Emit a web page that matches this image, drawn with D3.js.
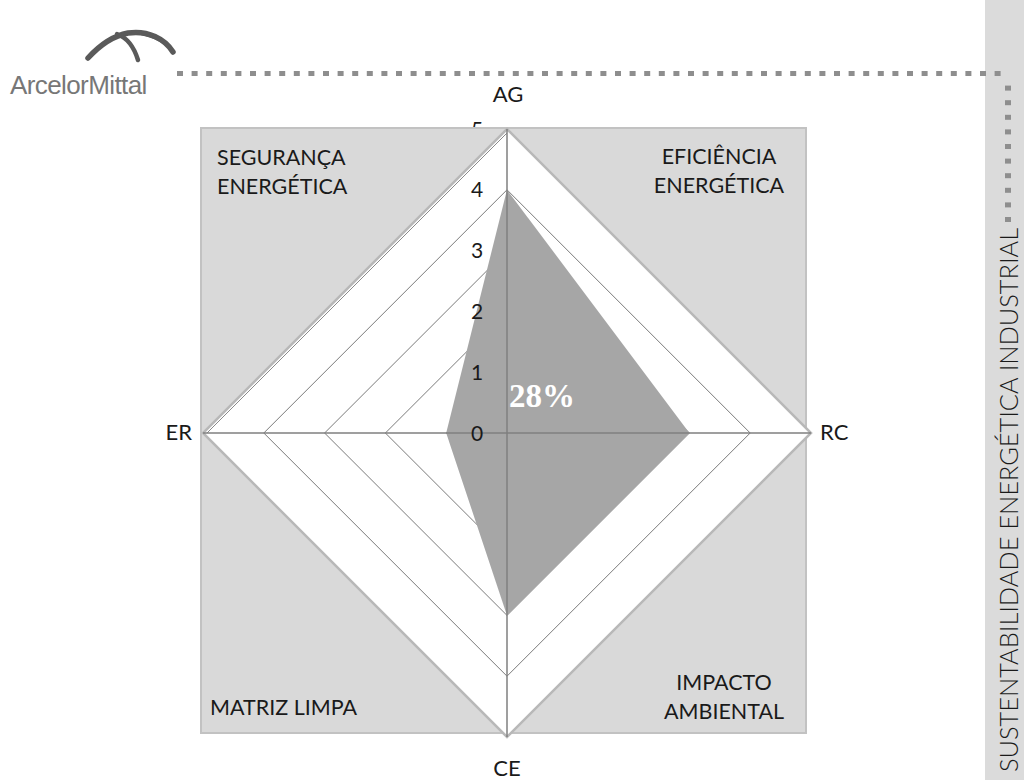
<!DOCTYPE html>
<html><head><meta charset="utf-8">
<script src="https://cdn.jsdelivr.net/npm/d3@7"></script>
<style>html,body{margin:0;padding:0;background:#fff;}svg{display:block;}</style>
</head><body>
<svg id="chart" width="1024" height="780"></svg>
<script>
// ---- data ----
const axes = ["AG", "RC", "CE", "ER"];
const values = [4, 3, 3, 1];
const ticks = [0, 1, 2, 3, 4, 5];
const quadrantTop = ["SEGURANÇA", "ENERGÉTICA"];
const quadrantRight = ["EFICIÊNCIA", "ENERGÉTICA"];
const quadrantBottomRight = ["IMPACTO", "AMBIENTAL"];
const quadrantBottomLeft = ["MATRIZ LIMPA"];
const score = "28%";
const sideTitle = "SUSTENTABILIDADE ENERGÉTICA INDUSTRIAL";
const brand = "ArcelorMittal";

const svg = d3.select("#chart");
const cx = 507, cy = 433, R = 304;
const maxV = d3.max(ticks);
const r = d3.scaleLinear().domain([0, maxV]).range([0, R]);
const angle = d3.scalePoint().domain(axes).range([-Math.PI/2, Math.PI]);
const pt = (a, v) => [cx + r(v) * Math.cos(angle(a)), cy + r(v) * Math.sin(angle(a))];
const lbl = "Lato, 'Open Sans', sans-serif";

// side strip
svg.append("rect").attr("x", 985).attr("y", 0).attr("width", 39).attr("height", 780).attr("fill", "#dbdbdb");

// dotted lines
const dotsH = d3.range(177, 1009, 14.6);
svg.append("g").selectAll("rect").data(dotsH).join("rect")
  .attr("x", d => d).attr("y", 71).attr("width", 6).attr("height", 5).attr("fill", "#8e8e8e");
const dotsV = d3.range(71 + 14.6, 222, 14.6);
svg.append("g").selectAll("rect").data(dotsV).join("rect")
  .attr("x", 1005).attr("y", d => d).attr("width", 6).attr("height", 5).attr("fill", "#8e8e8e");

// side title
svg.append("text")
  .attr("transform", "translate(1018,772) rotate(-90)")
  .attr("font-family", lbl).attr("font-weight", 300).attr("font-size", 26)
  .attr("fill", "#1a1a1a")
  .attr("textLength", 544).attr("lengthAdjust", "spacingAndGlyphs")
  .text(sideTitle);

// logo
const logo = svg.append("g").attr("fill", "none").attr("stroke", "#5a5a5a").attr("stroke-linecap", "round");
logo.append("path").attr("d", "M88,58 C99,46 112,36 128,33 C148,30 165,39 173,52").attr("stroke-width", 5.5);
logo.append("path").attr("d", "M130,33 C150,34 164,42 171,50").attr("stroke-width", 1.5);
logo.append("path").attr("d", "M117,34 C128,38 134,47 138,60").attr("stroke-width", 4.5);
svg.append("text").attr("x", 10).attr("y", 94)
  .attr("font-family", "'Liberation Sans', Arial, sans-serif").attr("font-size", 26)
  .attr("letter-spacing", -0.6).attr("fill", "#777").text(brand);

// tick label for max value (lies under the gray panel)
const tickG = svg.append("g");

// gray panel
svg.append("rect").attr("x", 201).attr("y", 128).attr("width", 605).attr("height", 605)
  .attr("fill", "#d9d9d9").attr("stroke", "#c2c2c2").attr("stroke-width", 2);

// white diamond
svg.append("polygon").attr("points", axes.map(a => pt(a, maxV)).join(" "))
  .attr("fill", "#fff").attr("stroke", "#b8b8b8").attr("stroke-width", 2.5);
// inner hairline along the upper-left edge (ER -> AG)
const ulA = pt("ER", maxV), ulB = pt("AG", maxV);
svg.append("line")
  .attr("x1", ulA[0] + 4).attr("y1", ulA[1]).attr("x2", ulB[0]).attr("y2", ulB[1] + 4)
  .attr("stroke", "#8a8a8a").attr("stroke-width", 1);

// grid rings
svg.append("g").selectAll("polygon").data(ticks.filter(t => t > 0 && t < maxV)).join("polygon")
  .attr("points", t => axes.map(a => pt(a, t)).join(" "))
  .attr("fill", "none").attr("stroke", "#7a7a7a").attr("stroke-width", 1);

// data polygon
svg.append("polygon").attr("points", axes.map((a, i) => pt(a, values[i])).join(" "))
  .attr("fill", "#a6a6a6");

// axis lines
svg.append("line").attr("x1", pt("AG", maxV)[0]).attr("y1", pt("AG", maxV)[1])
  .attr("x2", pt("CE", maxV)[0]).attr("y2", pt("CE", maxV)[1]).attr("stroke", "#7f7f7f").attr("stroke-width", 1.5);
svg.append("line").attr("x1", pt("ER", maxV)[0]).attr("y1", pt("ER", maxV)[1])
  .attr("x2", pt("RC", maxV)[0]).attr("y2", pt("RC", maxV)[1]).attr("stroke", "#7f7f7f").attr("stroke-width", 1.5);

// tick labels
function tickLabel(g, t) {
  g.append("text").attr("x", cx - 30).attr("y", cy - r(t)).attr("dy", "0.36em")
    .attr("text-anchor", "middle").attr("font-family", lbl).attr("font-size", 21)
    .attr("fill", "#1a1a1a").text(t);
}
tickLabel(tickG, maxV);
const tickTop = svg.append("g");
ticks.filter(t => t < maxV).forEach(t => tickLabel(tickTop, t));

// score
svg.append("text").attr("x", 509).attr("y", 407)
  .attr("font-family", "'Liberation Serif', 'Times New Roman', serif").attr("font-weight", "bold")
  .attr("font-size", 33).attr("fill", "#fff").text(score);

// axis labels
const axisLbl = svg.append("g").attr("font-family", lbl).attr("font-size", 22).attr("fill", "#1a1a1a");
axisLbl.append("text").attr("x", pt("AG", maxV)[0] + 1).attr("y", 102).attr("text-anchor", "middle").text(axes[0]);
axisLbl.append("text").attr("x", 820).attr("y", 440).attr("text-anchor", "start").text(axes[1]);
axisLbl.append("text").attr("x", pt("CE", maxV)[0]).attr("y", 776).attr("text-anchor", "middle").text(axes[2]);
axisLbl.append("text").attr("x", 192).attr("y", 440).attr("text-anchor", "end").text(axes[3]);

// quadrant labels
const qG = svg.append("g").attr("font-family", lbl).attr("font-size", 21.5).attr("fill", "#1a1a1a");
function multi(lines, x, y, anchor) {
  const t = qG.append("text").attr("x", x).attr("y", y).attr("text-anchor", anchor);
  lines.forEach((s, i) => t.append("tspan").attr("x", x).attr("dy", i ? 28.5 : 0).text(s));
}
multi(quadrantTop, 217, 165, "start");
multi(quadrantRight, 719, 164, "middle");
multi(quadrantBottomRight, 724, 690, "middle");
multi(quadrantBottomLeft, 210, 715, "start");
</script>
</body></html>
